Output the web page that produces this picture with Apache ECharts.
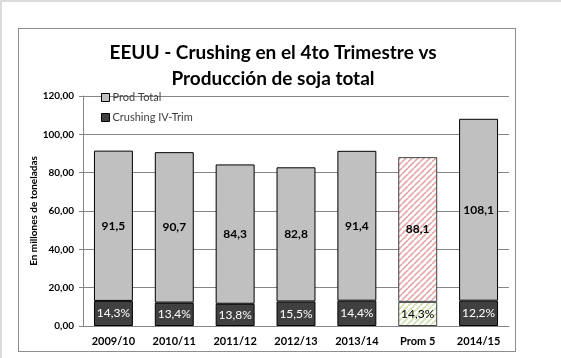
<!DOCTYPE html>
<html>
<head>
<meta charset="utf-8">
<script src="https://cdn.jsdelivr.net/npm/echarts@6/dist/echarts.min.js"></script>
<style>
html,body{margin:0;padding:0;background:#fff;}
#frame{position:absolute;left:0;top:0;width:561px;height:358px;box-sizing:border-box;border-top:2px solid #dcdcdc;border-left:2px solid #dcdcdc;}
#box{position:absolute;left:18px;top:28px;width:498px;height:324px;box-sizing:border-box;border:1px solid #8e8e8e;}
#chart{position:absolute;left:0;top:0;width:561px;height:358px;}
</style>
</head>
<body>
<div id="frame"></div>
<div id="box"></div>
<div id="chart"></div>
<script>
const categories = ['2009/10','2010/11','2011/12','2012/13','2013/14','Prom 5','2014/15'];
const prodTotal = [91.5, 90.7, 84.3, 82.8, 91.4, 88.1, 108.1];
const crushing = [13.1, 12.2, 11.6, 12.8, 13.2, 12.6, 13.2];
const crushingPct = ['14,3%','13,4%','13,8%','15,5%','14,4%','14,3%','12,2%'];
const yTicks = {min: 0, max: 120, interval: 20};
const avgIndex = 5;

function stripe(color) {
  const c = document.createElement('canvas');
  const s = 6;
  c.width = s; c.height = s;
  const ctx = c.getContext('2d');
  ctx.fillStyle = '#ffffff';
  ctx.fillRect(0, 0, s, s);
  ctx.strokeStyle = color;
  ctx.lineWidth = 1.6;
  for (const x0 of [-s, 0, s]) {
    ctx.beginPath();
    ctx.moveTo(x0, s);
    ctx.lineTo(x0 + s, 0);
    ctx.stroke();
  }
  return {image: c, repeat: 'repeat'};
}
const pinkPat = stripe('#e3a9a9');
const greenPat = stripe('#cfdfb0');

const fontFam = 'Lato, "Open Sans", sans-serif';
const remainder = prodTotal.map((v, i) => +(v - crushing[i]).toFixed(2));

const chart = echarts.init(document.getElementById('chart'), null, {renderer: 'canvas'});
chart.setOption({
  animation: false,
  textStyle: {fontFamily: fontFam},
  title: {
    text: 'EEUU - Crushing en el 4to Trimestre vs\nProducción de soja total',
    left: 268, top: 35, textAlign: 'center',
    textStyle: {fontFamily: fontFam, fontWeight: 'bold', fontSize: 19, lineHeight: 26, color: '#000'}
  },
  legend: {
    orient: 'vertical', left: 96, top: 87, itemGap: 9,
    itemWidth: 8, itemHeight: 8, icon: 'rect',
    data: [
      {name: 'Prod Total', itemStyle: {color: '#c0c0c0', borderColor: '#000', borderWidth: 1}},
      {name: 'Crushing IV-Trim', itemStyle: {color: '#404040', borderColor: '#000', borderWidth: 1}}
    ],
    textStyle: {fontFamily: fontFam, fontSize: 11, color: '#404040', padding: [0,0,0,-2]}
  },
  grid: {left: 83, right: 52, top: 96, bottom: 32},
  xAxis: {
    type: 'category', data: categories,
    axisLine: {lineStyle: {color: '#868686'}},
    axisTick: {show: false},
    axisLabel: {fontFamily: fontFam, fontWeight: 'bold', fontSize: 11, color: '#000', margin: 10}
  },
  yAxis: {
    type: 'value', min: yTicks.min, max: yTicks.max, interval: yTicks.interval,
    name: 'En millones de toneladas', nameLocation: 'middle', nameGap: 44, nameMoveOverlap: false,
    nameTextStyle: {fontFamily: fontFam, fontWeight: 'bold', fontSize: 10, color: '#000'},
    axisLine: {show: true, lineStyle: {color: '#868686'}},
    axisTick: {show: true, length: 4, lineStyle: {color: '#868686'}},
    splitLine: {lineStyle: {color: '#868686'}},
    axisLabel: {fontFamily: fontFam, fontWeight: 'bold', fontSize: 10, color: '#000', margin: 9,
      formatter: v => v.toFixed(2).replace('.', ',')}
  },
  series: [
    {
      name: 'Crushing IV-Trim', type: 'bar', stack: 'a', barWidth: '64%',
      itemStyle: {color: '#404040', borderColor: '#000', borderWidth: 1},
      data: crushing.map((v, i) => i === avgIndex
        ? {value: v, itemStyle: {color: greenPat, borderColor: '#404040'}, label: {color: '#000'}}
        : v),
      label: {show: true, position: 'inside', color: '#fff', fontFamily: fontFam, fontSize: 12,
        formatter: p => crushingPct[p.dataIndex]}
    },
    {
      name: 'Prod Total', type: 'bar', stack: 'a', barWidth: '64%',
      itemStyle: {color: '#c0c0c0', borderColor: '#000', borderWidth: 1},
      data: remainder.map((v, i) => i === avgIndex
        ? {value: v, itemStyle: {color: pinkPat, borderColor: '#404040'}}
        : v),
      label: {show: true, position: 'inside', color: '#000', fontFamily: fontFam, fontSize: 12, fontWeight: 'bold',
        formatter: p => prodTotal[p.dataIndex].toFixed(1).replace('.', ',')}
    }
  ]
});
</script>
</body>
</html>
